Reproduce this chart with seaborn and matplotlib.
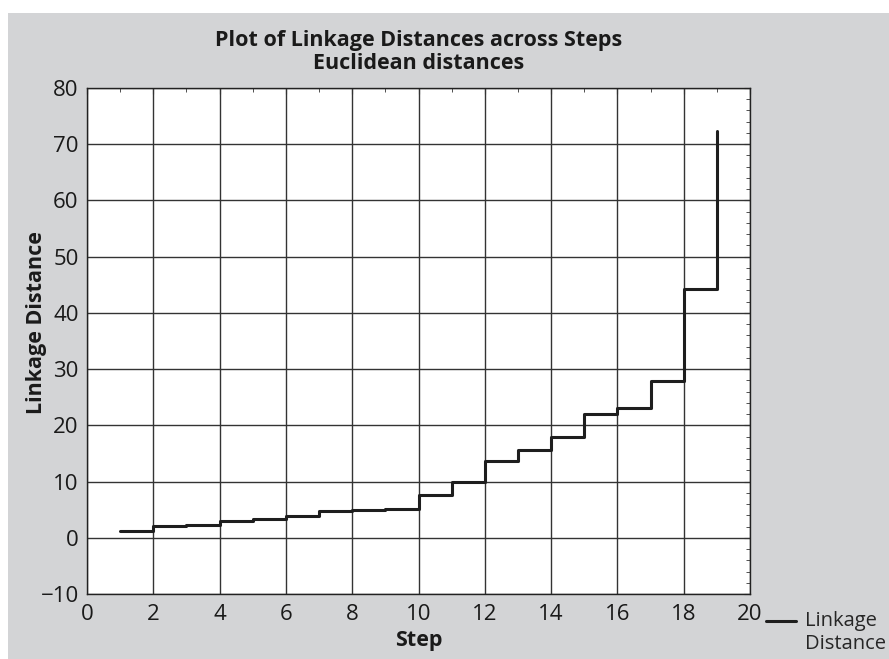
import numpy as np
import pandas as pd
import matplotlib
matplotlib.use("Agg")
import matplotlib.pyplot as plt
from matplotlib.patches import Rectangle
from matplotlib.ticker import MultipleLocator
from matplotlib.legend_handler import HandlerLine2D
import seaborn as sns

# linkage distance at each step
steps = list(range(1, 20))
distance = [1.2, 2.1, 2.2, 2.9, 3.3, 3.8, 4.8, 5.0, 5.2, 7.6,
            10.0, 13.7, 15.6, 18.0, 22.1, 23.1, 27.8, 44.3, 72.3]

df = pd.DataFrame({"Step": steps, "Linkage Distance": distance})


class FirstLineHandler(HandlerLine2D):
    # put the legend line level with the first text line
    def create_artists(self, legend, orig_handle, xdescent, ydescent, width, height, fontsize, trans):
        arts = super().create_artists(legend, orig_handle, xdescent, ydescent,
                                      width, height, fontsize, trans)
        for a in arts:
            a.set_ydata(np.asarray(a.get_ydata()) + 0.6 * fontsize)
        return arts


sns.set_style("white")
plt.rcParams['font.family'] = ['Open Sans', 'DejaVu Sans']

fig = plt.figure(figsize=(8.89, 6.59), dpi=100)
fig.patch.set_facecolor("white")
# grey panel behind everything
fig.patches.append(Rectangle((8 / 889, 0), 1, 1 - 13 / 659, transform=fig.transFigure,
                             facecolor="#d3d4d6", edgecolor="none", zorder=-5))

ax = fig.add_axes([87 / 889, 1 - 594 / 659, (750 - 87) / 889, (594 - 88) / 659])
ax.set_facecolor("white")

sns.lineplot(data=df, x="Step", y="Linkage Distance", drawstyle="steps-post",
             color="#1e1e1e", linewidth=2.2, label="Linkage\nDistance", ax=ax)

ax.set_xlim(0, 20)
ax.set_ylim(-10, 80)
ax.xaxis.set_major_locator(MultipleLocator(2))
ax.xaxis.set_minor_locator(MultipleLocator(1))
ax.yaxis.set_major_locator(MultipleLocator(10))
ax.yaxis.set_minor_locator(MultipleLocator(2))
ax.grid(True, which="major", color="#333333", linewidth=1.0)
ax.tick_params(which="both", direction="in", top=True, right=True, colors="#333333",
               labelcolor="#1a1a1a", labelsize=16)
ax.tick_params(which="major", length=4)
ax.tick_params(axis="x", which="major", pad=7.5)
ax.tick_params(axis="y", which="major", pad=6)
ax.tick_params(which="minor", length=3)
for s in ax.spines.values():
    s.set_color("#222222")
    s.set_linewidth(1.0)

ax.set_xlabel("Step", fontsize=15.5, fontweight="bold", labelpad=3.5, color="#1a1a1a")
ax.set_ylabel("Linkage Distance", fontsize=15.5, fontweight="bold", color="#1a1a1a")
ax.yaxis.set_label_coords(-0.061, 0.536)
ax.set_title("Plot of Linkage Distances across Steps\nEuclidean distances",
             fontsize=15.5, fontweight="bold", color="#1a1a1a", pad=14, linespacing=1.1)

ax.legend(loc="upper left", bbox_to_anchor=(766 / 889, 1 - 611 / 659),
          bbox_transform=fig.transFigure, frameon=False, fontsize=14.5,
          handlelength=1.5, handletextpad=0.45, borderpad=0, borderaxespad=0,
          labelspacing=0.2, handler_map={plt.Line2D: FirstLineHandler()})

fig.savefig("out.png", dpi=100, facecolor=fig.get_facecolor())
